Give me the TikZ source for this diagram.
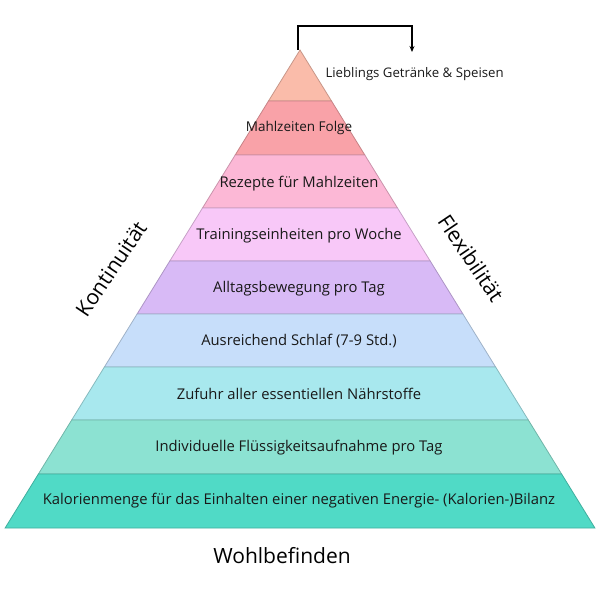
\documentclass[tikz,border=0pt]{standalone}
\usepackage{fontspec}
\setmainfont{Open Sans}
\usetikzlibrary{arrows.meta}
\definecolor{lvlA}{RGB}{250,188,170}
\definecolor{lvlB}{RGB}{249,162,168}
\definecolor{lvlC}{RGB}{252,184,214}
\definecolor{lvlD}{RGB}{248,200,248}
\definecolor{lvlE}{RGB}{216,186,246}
\definecolor{lvlF}{RGB}{199,222,250}
\definecolor{lvlG}{RGB}{168,232,238}
\definecolor{lvlH}{RGB}{140,226,210}
\definecolor{lvlI}{RGB}{80,218,198}
\begin{document}
\begin{tikzpicture}[x=1pt, y=-1pt, layer/.style={fill=#1, draw=#1!80!black, line width=0.8pt},
text node/.style={font=\fontsize{14.8}{17}\selectfont, text=black!90},
side node/.style={font=\fontsize{21}{25}\selectfont, text=black}]
\useasboundingbox (0,0) rectangle (600,600);
% pyramid
\filldraw[layer=lvlA] (300,50) -- (331.5,101) -- (268.5,101) -- cycle;
\filldraw[layer=lvlB] (268.5,101) -- (331.5,101) -- (364.8,155) -- (235.2,155) -- cycle;
\filldraw[layer=lvlC] (235.2,155) -- (364.8,155) -- (397.5,208) -- (202.5,208) -- cycle;
\filldraw[layer=lvlD] (202.5,208) -- (397.5,208) -- (430.2,261) -- (169.8,261) -- cycle;
\filldraw[layer=lvlE] (169.8,261) -- (430.2,261) -- (462.9,314) -- (137.1,314) -- cycle;
\filldraw[layer=lvlF] (137.1,314) -- (462.9,314) -- (495.6,367) -- (104.4,367) -- cycle;
\filldraw[layer=lvlG] (104.4,367) -- (495.6,367) -- (528.3,420) -- (71.7,420) -- cycle;
\filldraw[layer=lvlH] (71.7,420) -- (528.3,420) -- (561.6,474) -- (38.4,474) -- cycle;
\filldraw[layer=lvlI] (38.4,474) -- (561.6,474) -- (594.9,528) -- (5.1,528) -- cycle;
% labels
\node[text node, font=\fontsize{13.2}{15}\selectfont, anchor=west] (fav) at (322,74) {Lieblings Getränke \& Speisen};
\node[text node, font=\fontsize{13.5}{16}\selectfont] (meals) at (299,128) {Mahlzeiten Folge};
\node[text node] (recipes) at (299,184) {Rezepte für Mahlzeiten};
\node[text node] (training) at (299,236) {Trainingseinheiten pro Woche};
\node[text node] (daily) at (299,289) {Alltagsbewegung pro Tag};
\node[text node] (sleep) at (299,341) {Ausreichend Schlaf (7-9 Std.)};
\node[text node] (nutrients) at (299,394) {Zufuhr aller essentiellen Nährstoffe};
\node[text node] (fluid) at (299,448) {Individuelle Flüssigkeitsaufnahme pro Tag};
\node[text node] (calories) at (299,501) {Kalorienmenge für das Einhalten einer negativen Energie- (Kalorien-)Bilanz};
\node[side node, rotate=56] (cont) at (111,269) {Kontinuität};
\node[side node, rotate=-56] (flex) at (471,258) {Flexibilität};
\node[side node] (well) at (282,556) {Wohlbefinden};
% arrow over the top
\coordinate (apex) at (298,50);
\coordinate (drop) at (412,52);
\draw[line width=1.3pt, -{Stealth[length=6pt,width=5pt]}] (apex) -- ++(0,-24) -| (drop);
\end{tikzpicture}
\end{document}
